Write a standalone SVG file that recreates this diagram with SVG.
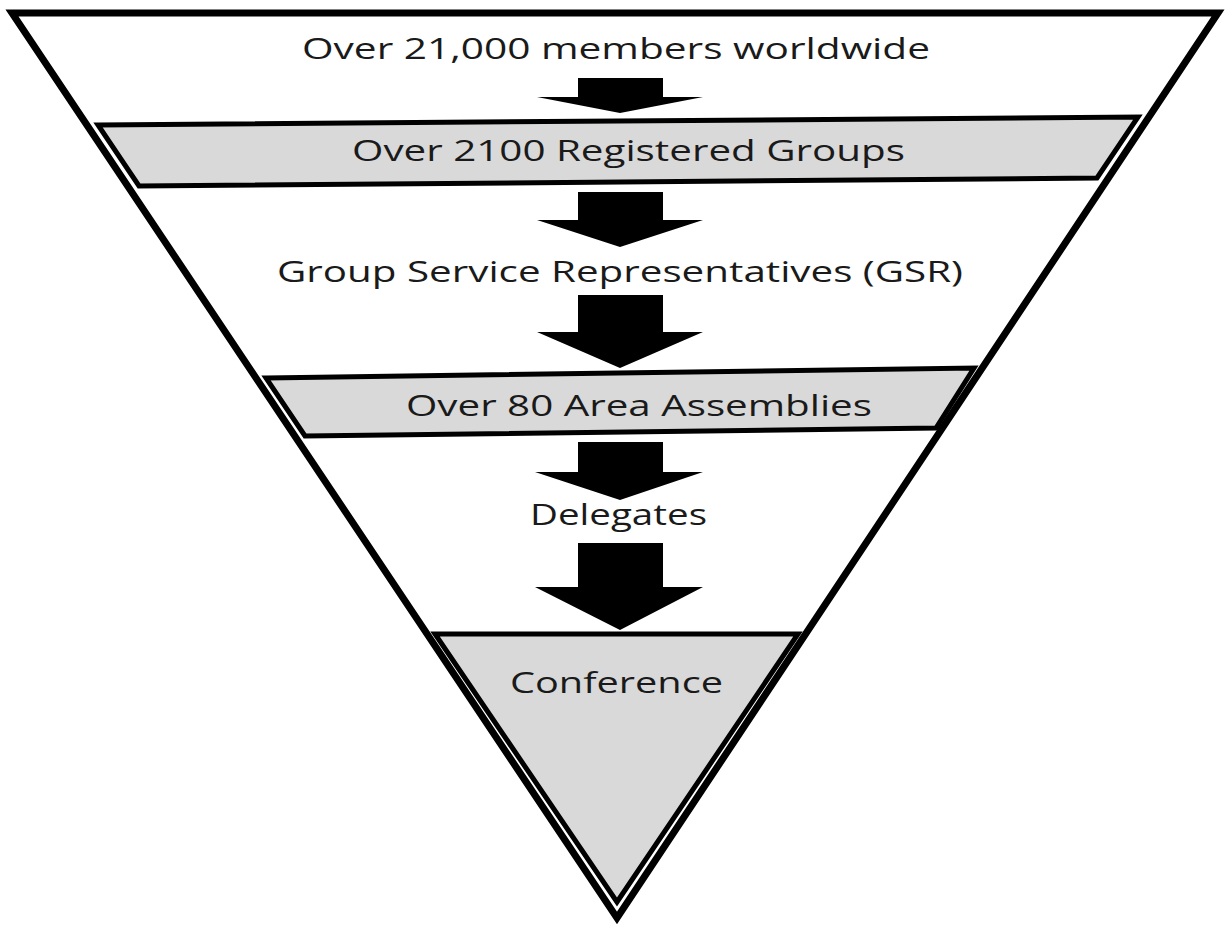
<svg xmlns="http://www.w3.org/2000/svg" width="1226" height="928" viewBox="0 0 1226 928">
  <style>
    .frame { fill: #ffffff; stroke: #000000; stroke-width: 7; stroke-linejoin: miter; stroke-miterlimit: 10; }
    .band { fill: #d9d9d9; stroke: #000000; stroke-width: 5; stroke-linejoin: miter; stroke-miterlimit: 10; }
    .arrow { fill: #000000; stroke: none; }
    .label { font-family: "Open Sans", "Noto Sans", "Liberation Sans", sans-serif; font-size: 29px; fill: #1a1a1a; }
  </style>
  <rect x="0" y="0" width="1226" height="928" fill="#ffffff"/>
  <g id="frame">
    <polygon class="frame" points="12,13 1218,13 617,918"/>
  </g>
  <g id="node-members">
    <text class="label" x="302" y="59" textLength="628" lengthAdjust="spacingAndGlyphs">Over 21,000 members worldwide</text>
  </g>
  <g id="node-groups">
    <polygon class="band" points="98,125 1138,117 1097,178 139,186"/>
    <text class="label" x="352" y="161" textLength="553" lengthAdjust="spacingAndGlyphs">Over 2100 Registered Groups</text>
  </g>
  <g id="node-gsr">
    <text class="label" x="277" y="282" textLength="686" lengthAdjust="spacingAndGlyphs">Group Service Representatives (GSR)</text>
  </g>
  <g id="node-assemblies">
    <polygon class="band" points="266,378 974,368 936,428 305,436"/>
    <text class="label" x="406" y="416" textLength="466" lengthAdjust="spacingAndGlyphs">Over 80 Area Assemblies</text>
  </g>
  <g id="node-delegates">
    <text class="label" x="530" y="525" textLength="177" lengthAdjust="spacingAndGlyphs">Delegates</text>
  </g>
  <g id="node-conference">
    <polygon class="band" points="435,634 798,634 617,902"/>
    <text class="label" x="510" y="693" textLength="213" lengthAdjust="spacingAndGlyphs">Conference</text>
  </g>
  <g id="connectors">
    <polygon class="arrow" points="578,78 663,78 663,97 703,97 620,113 537,97 578,97"/>
    <polygon class="arrow" points="578,192 663,192 663,220 703,220 620,247 537,220 578,220"/>
    <polygon class="arrow" points="578,295 663,295 663,332 703,332 620,368 537,332 578,332"/>
    <polygon class="arrow" points="578,442 663,442 663,472 703,472 620,500 535,472 578,472"/>
    <polygon class="arrow" points="578,543 663,543 663,587 703,587 620,630 535,587 578,587"/>
  </g>
</svg>
